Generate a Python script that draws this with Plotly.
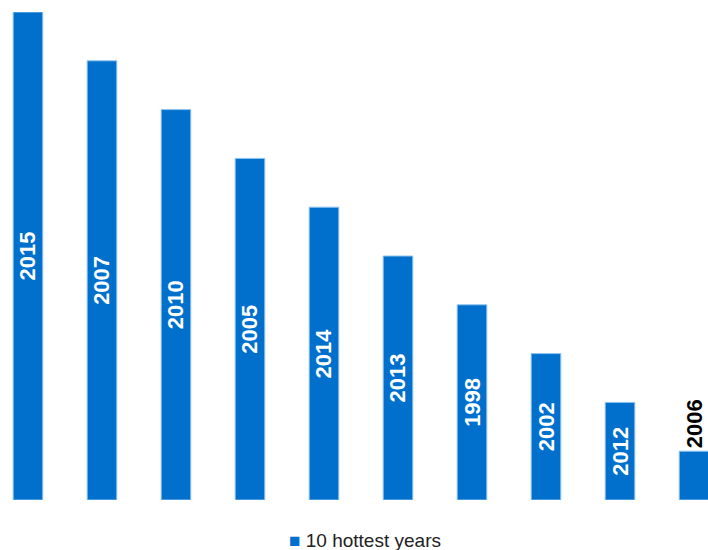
import plotly.graph_objects as go

# hottest years ranked, tallest first
years = ['2015', '2007', '2010', '2005', '2014', '2013', '1998', '2002', '2012', '2006']
ranks = [10, 9, 8, 7, 6, 5, 4, 3, 2, 1]
series_name = '10 hottest years'
bar_color = '#0070CC'

positions = ['inside'] * 9 + ['outside']
colors = ['white'] * 9 + ['black']

fig = go.Figure()
fig.add_trace(go.Bar(
    name=series_name,
    x=years,
    y=ranks,
    width=0.4,
    marker=dict(color=bar_color, line=dict(color='#8fc3ee', width=1)),
    text=years,
    textposition=positions,
    insidetextanchor='middle',
    textangle=-90,
    textfont=dict(family='Arial, Liberation Sans', size=22, color=colors, weight='bold'),
    constraintext='none',
    cliponaxis=False,
    showlegend=False,
))

# legend drawn as an annotation so it doesn't push the bottom margin
fig.add_annotation(
    text=f"<span style='color:{bar_color}'>■</span> {series_name}",
    xref='paper', yref='paper',
    x=0.405, y=-0.082,
    xanchor='left', yanchor='middle',
    showarrow=False,
    font=dict(family='Arial, Liberation Sans', size=19, color='#222'),
)

fig.update_layout(
    width=708,
    height=550,
    margin=dict(l=0, r=0, t=12, b=50),
    plot_bgcolor='white',
    paper_bgcolor='white',
    xaxis=dict(type='category', range=[-0.378, 9.189], showticklabels=False,
               showgrid=False, zeroline=False, showline=False, ticks=''),
    yaxis=dict(range=[0, 10], visible=False),
    showlegend=False,
)

# drop the default body margin so the figure fills the window
js = """
document.body.style.margin='0';
document.body.style.overflow='hidden';
document.documentElement.style.overflow='hidden';
"""
fig.write_html('out.html', post_script=js, config={'displayModeBar': False})
